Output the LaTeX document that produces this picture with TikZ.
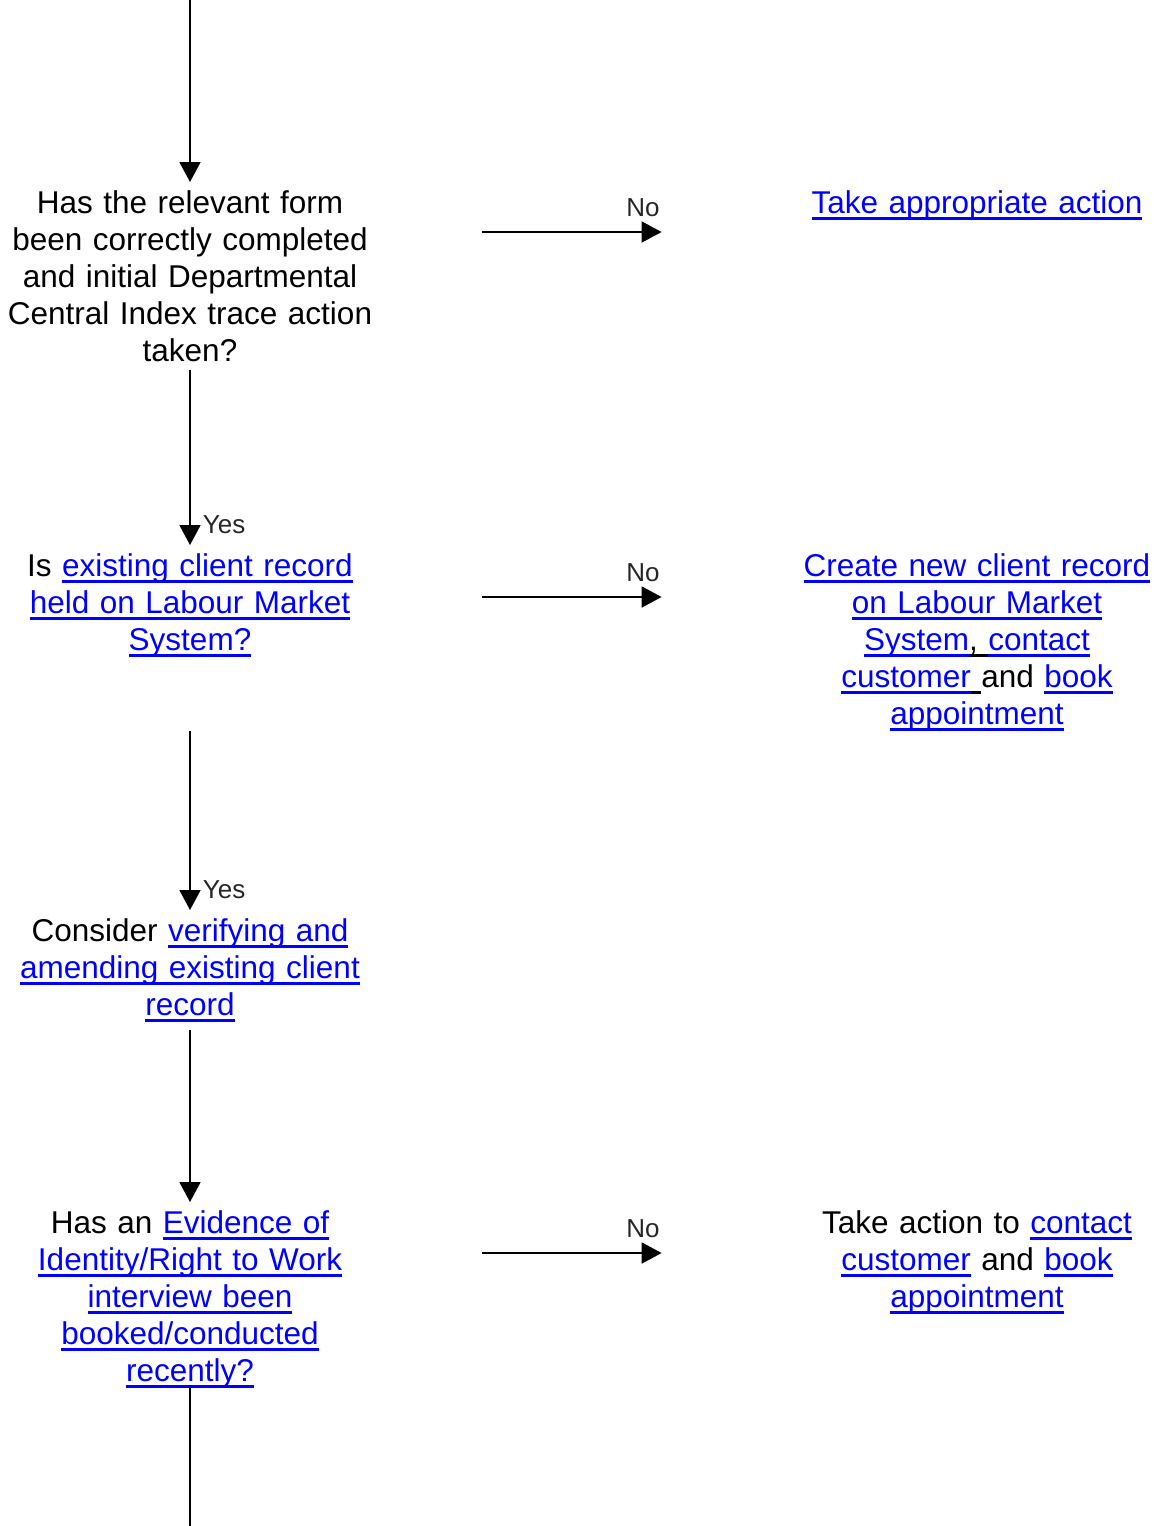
\documentclass[tikz,border=0pt]{standalone}
\usepackage{fontspec}
\setmainfont{Liberation Sans}
\usepackage{tikz}
\usetikzlibrary{arrows.meta,positioning}
\tikzset{question node/.style={text width=190pt, align=center, inner sep=4pt,
    anchor=north, font=\fontsize{15.75}{18.5}\selectfont}}
\tikzset{action node/.style={question node, text width=180pt}}
\tikzset{flow line/.style={draw=black, line width=0.9pt}}
\tikzset{flow edge/.style={flow line, -{Triangle[length=10pt,width=10.5pt]}}}
\tikzset{answer label/.style={font=\fontsize{13}{15}\selectfont, inner sep=1pt, text=black!85}}
\tikzset{yes label/.style={answer label, pos=1, anchor=south west, xshift=5pt, yshift=4pt}}
\tikzset{no label/.style={answer label, pos=1, anchor=south east, xshift=0.5pt, yshift=6pt}}
\newsavebox{\ulinebox}
\newcommand{\undl}[1]{\leavevmode\sbox{\ulinebox}{#1}\rlap{\rule[-3.2pt]{\wd\ulinebox}{1.1pt}}\usebox{\ulinebox}}
\newcommand{\lnk}[1]{\leavevmode{\color{blue}\undl{#1}}}

\begin{document}
\begin{tikzpicture}[x=0.5pt, y=0.5pt]
  \useasboundingbox (0,0) rectangle (1154,-1526);

  \coordinate (top)    at (190,    0);
  \coordinate (bottom) at (190,-1526);

  \node [question node] (q1) at (190, -182) {Has the relevant form\\been correctly completed\\and initial Departmental\\Central Index trace action\\taken?};
  \node [question node] (q2) at (190, -545) {Is \lnk{existing client record}\\\lnk{held on Labour Market}\\\lnk{System?}};
  \node [question node] (a3) at (190, -910) {Consider \lnk{verifying and}\\\lnk{amending existing client}\\\lnk{record}};
  \node [question node] (q4) at (190,-1202) {Has an \lnk{Evidence of}\\\lnk{Identity/Right to Work}\\\lnk{interview been}\\\lnk{booked/conducted}\\\lnk{recently?}};

  \node [action node]   (r1) at (977, -182) {\lnk{Take appropriate action}};
  \node [action node]   (r2) at (977, -545) {\lnk{Create new client record}\\\lnk{on Labour Market}\\\lnk{System}\undl{,\ }\lnk{contact}\\\lnk{customer}\undl{\ }and \lnk{book}\\\lnk{appointment}};
  \node [action node]   (r4) at (977,-1202) {Take action to \lnk{contact}\\\lnk{customer} and \lnk{book}\\\lnk{appointment}};

  \draw [flow edge] (top) -- (q1);
  \draw [flow edge] (q1) -- node [yes label] {Yes} (q2);
  \draw [flow edge, shorten <=33pt] (q2) -- node [yes label] {Yes} (a3);
  \draw [flow edge] (a3) -- (q4);
  \draw [flow line, shorten <=-4pt] (q4) -- (bottom);

  \draw [flow edge] ([xshift=47pt,yshift=-25pt]q1.north east) -- node [no label] {No} ([xshift=-63.5pt,yshift=-25pt]r1.north west);
  \draw [flow edge] ([xshift=47pt,yshift=-26pt]q2.north east) -- node [no label] {No} ([xshift=-63.5pt,yshift=-26pt]r2.north west);
  \draw [flow edge] ([xshift=47pt,yshift=-25.5pt]q4.north east) -- node [no label] {No} ([xshift=-63.5pt,yshift=-25.5pt]r4.north west);
\end{tikzpicture}
\end{document}
